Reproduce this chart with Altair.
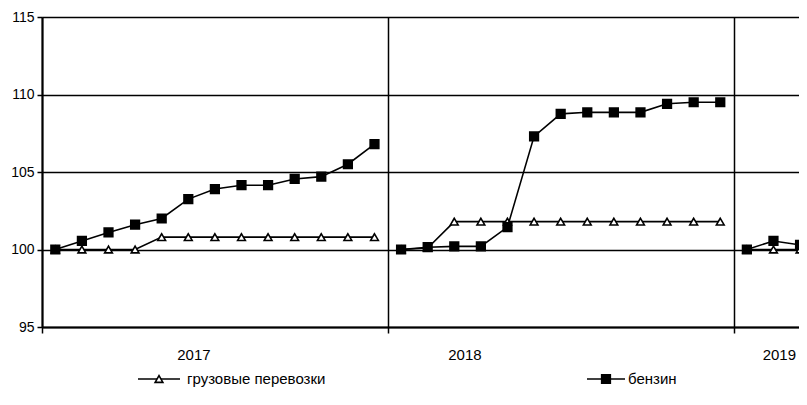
import altair as alt
import pandas as pd

# ---- data ----
years = ["2017", "2018", "2019"]
series_names = ["грузовые перевозки", "бензин"]

cargo_2017 = [100.0, 100.0, 100.0, 100.0, 100.8, 100.8, 100.8, 100.8, 100.8, 100.8, 100.8, 100.8, 100.8]
petrol_2017 = [100.0, 100.55, 101.1, 101.6, 102.0, 103.25, 103.9, 104.15, 104.15, 104.55, 104.7, 105.5, 106.8]
cargo_2018 = [100.0, 100.1, 101.8, 101.8, 101.8, 101.8, 101.8, 101.8, 101.8, 101.8, 101.8, 101.8, 101.8]
petrol_2018 = [100.0, 100.15, 100.2, 100.2, 101.45, 107.3, 108.75, 108.85, 108.85, 108.85, 109.4, 109.5, 109.5]
cargo_2019 = [100.0, 100.0, 100.0]
petrol_2019 = [100.0, 100.55, 100.3]

slots_per_year = 13
year_label_slot = [5.71, 15.9, 27.72]
x_end = 28.46

cargo = [cargo_2017, cargo_2018, cargo_2019]
petrol = [petrol_2017, petrol_2018, petrol_2019]

rows = []
for yi, yr in enumerate(years):
    for name, vals in ((series_names[0], cargo[yi]), (series_names[1], petrol[yi])):
        for i, v in enumerate(vals):
            rows.append({"year": yr, "series": name,
                         "pos": yi * slots_per_year + i + 0.5, "value": v})
df = pd.DataFrame(rows)
labels_df = pd.DataFrame({"year": years, "pos": year_label_slot})

FONT = "Liberation Sans"

x_scale = alt.Scale(domain=[0, x_end], nice=False, zero=False)
y_scale = alt.Scale(domain=[95, 115], nice=False, zero=False)

x_enc = alt.X("pos:Q", scale=x_scale,
              axis=alt.Axis(values=[0, 13, 26], labels=False, title=None,
                            grid=True, gridColor="#000", gridWidth=1.5, gridOpacity=1,
                            tickSize=6, tickColor="#000", tickWidth=1.5,
                            domainColor="#000", domainWidth=2))
y_enc = alt.Y("value:Q", scale=y_scale,
              axis=alt.Axis(values=[95, 100, 105, 110, 115], title=None,
                            grid=True, gridColor="#000", gridWidth=1.3, gridOpacity=1,
                            tickSize=5, tickColor="#000", tickWidth=1.5,
                            domainColor="#000", domainWidth=2,
                            labelFont=FONT, labelFontSize=14, labelColor="#000",
                            labelPadding=3))

cargo_df = df[df.series == series_names[0]]
petrol_df = df[df.series == series_names[1]]

TRI = 60
SQ = 68

cargo_line = alt.Chart(cargo_df).mark_line(color="#000", strokeWidth=1.6).encode(
    x=x_enc, y=y_enc, detail="year:N")
cargo_pts = alt.Chart(cargo_df).mark_point(shape="triangle-up", filled=True, fill="white",
                                           stroke="#000", strokeWidth=1.6, size=TRI, opacity=1).encode(
    x="pos:Q", y="value:Q")
petrol_line = alt.Chart(petrol_df).mark_line(color="#000", strokeWidth=1.6).encode(
    x="pos:Q", y="value:Q", detail="year:N")
petrol_pts = alt.Chart(petrol_df).mark_point(shape="square", filled=True, fill="#000",
                                             stroke="#000", size=SQ, opacity=1).encode(
    x="pos:Q", y="value:Q")

year_text = alt.Chart(labels_df).mark_text(font=FONT, fontSize=15, color="#000",
                                           baseline="middle", align="center").encode(
    x="pos:Q", y=alt.value(338), text="year:N")

# ---- custom legend ----
leg_y = 362
one = labels_df.head(1)
leg1_line = alt.Chart(one).mark_rule(color="#000", strokeWidth=1.6).encode(
    x=alt.value(96), x2=alt.value(138), y=alt.value(leg_y))
leg1_pt = alt.Chart(one).mark_point(shape="triangle-up", filled=True, fill="white",
                                    stroke="#000", strokeWidth=1.6, size=TRI, opacity=1).encode(
    x=alt.value(117), y=alt.value(leg_y))
leg1_txt = alt.Chart(one).mark_text(font=FONT, fontSize=15, color="#000",
                                    align="left", baseline="middle").encode(
    x=alt.value(145), y=alt.value(leg_y), text=alt.value(series_names[0]))
leg2_line = alt.Chart(one).mark_rule(color="#000", strokeWidth=1.6).encode(
    x=alt.value(545), x2=alt.value(583), y=alt.value(leg_y))
leg2_pt = alt.Chart(one).mark_point(shape="square", filled=True, fill="#000",
                                    stroke="#000", size=SQ, opacity=1).encode(
    x=alt.value(564), y=alt.value(leg_y))
leg2_txt = alt.Chart(one).mark_text(font=FONT, fontSize=15, color="#000",
                                    align="left", baseline="middle").encode(
    x=alt.value(586), y=alt.value(leg_y), text=alt.value(series_names[1]))

chart = alt.layer(
    cargo_line, cargo_pts, petrol_line, petrol_pts, year_text,
    leg1_line, leg1_pt, leg1_txt, leg2_line, leg2_pt, leg2_txt
).properties(
    width=757, height=310,
    autosize=alt.AutoSizeParams(type="none"),
    padding={"left": 34, "top": 9, "right": 0, "bottom": 62},
    background="white",
).configure_view(stroke=None)

chart.save("out.html", embed_options={"renderer": "svg", "actions": False})
